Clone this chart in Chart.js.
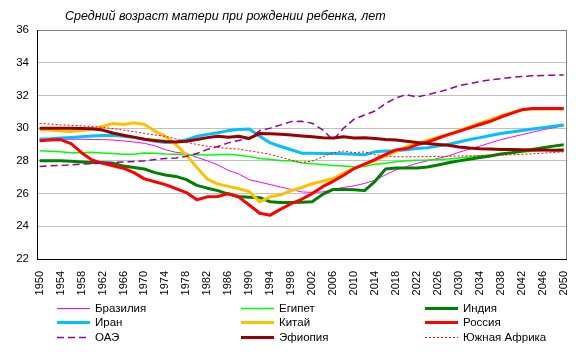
<!DOCTYPE html>
<html>
<head>
<meta charset="utf-8">
<script src="https://cdn.jsdelivr.net/npm/chart.js@4"></script>
<style>
  html, body { margin: 0; padding: 0; background: #fff; }
  #wrap { width: 581px; height: 355px; }
</style>
</head>
<body>
<div id="wrap"><canvas id="c" width="581" height="355"></canvas></div>
<script>
const chartTitle = "Средний возраст матери при рождении ребенка, лет";

const years = [1950,1952,1954,1956,1958,1960,1962,1964,1966,1968,1970,1972,1974,1976,1978,1980,1982,1984,1986,1988,1990,1992,1994,1996,1998,2000,2002,2004,2006,2008,2010,2012,2014,2016,2018,2020,2022,2024,2026,2028,2030,2032,2034,2036,2038,2040,2042,2044,2046,2048,2050];

const tickYears = [1950,1954,1958,1962,1966,1970,1974,1978,1982,1986,1990,1994,1998,2002,2006,2010,2014,2018,2022,2026,2030,2034,2038,2042,2046,2050];

const seriesNames = ["Бразилия","Египет","Индия","Иран","Китай","Россия","ОАЭ","Эфиопия","Южная Африка"];

const brazil = [29.33,29.33,29.33,29.32,29.32,29.30,29.30,29.27,29.22,29.15,29.07,28.92,28.68,28.52,28.45,28.22,28.00,27.75,27.42,27.20,26.85,26.70,26.55,26.40,26.25,26.10,26.07,26.10,26.25,26.38,26.47,26.62,26.82,27.15,27.45,27.65,27.85,28.00,28.15,28.30,28.52,28.72,28.90,29.10,29.30,29.45,29.60,29.75,29.90,30.02,30.14];

const egypt = [28.62,28.58,28.55,28.50,28.50,28.52,28.48,28.45,28.40,28.40,28.48,28.46,28.42,28.40,28.38,28.38,28.36,28.38,28.40,28.35,28.27,28.15,28.08,28.02,28.00,27.88,27.82,27.78,27.72,27.68,27.64,27.66,27.80,27.86,27.95,28.00,28.04,28.05,28.08,28.12,28.18,28.24,28.30,28.36,28.42,28.47,28.52,28.58,28.63,28.68,28.72];

const india = [28.00,28.00,28.00,27.97,27.93,27.90,27.90,27.86,27.68,27.60,27.50,27.28,27.14,27.05,26.85,26.50,26.33,26.18,25.97,25.82,25.78,25.75,25.50,25.45,25.45,25.47,25.50,25.95,26.25,26.25,26.23,26.18,26.75,27.50,27.57,27.57,27.57,27.62,27.75,27.88,28.00,28.10,28.20,28.30,28.42,28.50,28.60,28.70,28.80,28.90,28.98];

const iran = [29.33,29.35,29.40,29.43,29.47,29.52,29.55,29.57,29.50,29.42,29.33,29.20,29.12,29.15,29.30,29.50,29.62,29.72,29.85,29.92,29.95,29.50,29.10,28.88,28.68,28.47,28.47,28.45,28.45,28.43,28.41,28.37,28.55,28.60,28.61,28.68,28.76,28.80,28.90,29.02,29.15,29.30,29.42,29.55,29.67,29.77,29.86,29.95,30.03,30.12,30.20];

const china = [29.90,29.88,29.82,29.80,29.85,29.93,30.10,30.28,30.22,30.33,30.22,29.82,29.50,29.00,28.35,27.60,26.88,26.58,26.44,26.30,26.12,25.49,25.80,25.92,26.18,26.37,26.60,26.75,26.92,27.25,27.55,27.77,28.02,28.30,28.58,28.85,29.07,29.25,29.45,29.62,29.85,30.08,30.30,30.52,30.75,30.95,31.12,31.17,31.17,31.17,31.17];

const russia = [29.23,29.27,29.30,29.05,28.50,28.05,27.85,27.70,27.55,27.28,26.90,26.72,26.55,26.30,26.06,25.62,25.80,25.82,26.00,25.78,25.30,24.80,24.68,25.05,25.38,25.65,26.00,26.42,26.75,27.12,27.53,27.80,28.08,28.40,28.67,28.75,28.98,29.15,29.38,29.60,29.80,30.02,30.22,30.42,30.68,30.90,31.12,31.20,31.20,31.20,31.20];

const uae = [27.66,27.70,27.72,27.76,27.80,27.83,27.86,27.90,27.93,27.96,28.00,28.08,28.15,28.18,28.28,28.45,28.70,28.88,29.10,29.25,29.37,29.85,30.00,30.20,30.40,30.42,30.30,29.90,29.27,30.00,30.55,30.80,31.05,31.50,31.85,32.05,31.90,32.05,32.20,32.38,32.60,32.72,32.85,32.95,33.03,33.10,33.16,33.20,33.22,33.24,33.25];

const ethiopia = [30.00,30.00,30.00,30.00,29.98,29.96,29.88,29.70,29.57,29.45,29.32,29.25,29.18,29.15,29.20,29.30,29.42,29.50,29.45,29.50,29.37,29.68,29.65,29.62,29.58,29.52,29.47,29.42,29.40,29.47,29.40,29.42,29.37,29.30,29.27,29.20,29.12,29.06,29.00,28.95,28.85,28.78,28.74,28.72,28.70,28.69,28.68,28.67,28.66,28.65,28.65];

const southAfrica = [30.29,30.25,30.20,30.17,30.14,30.10,30.05,29.97,29.88,29.78,29.68,29.58,29.50,29.35,29.15,29.00,28.90,28.82,28.76,28.72,28.62,28.51,28.40,28.22,28.05,27.90,27.98,28.25,28.50,28.60,28.50,28.55,28.38,28.30,28.25,28.25,28.25,28.26,28.27,28.28,28.30,28.31,28.32,28.34,28.35,28.37,28.40,28.43,28.47,28.51,28.55];

const seriesValues = [brazil, egypt, india, iran, china, russia, uae, ethiopia, southAfrica];

const styles = [
  { color: '#ff00ff', width: 1,   dash: [] },
  { color: '#00ff00', width: 1.5, dash: [] },
  { color: '#008000', width: 3,   dash: [] },
  { color: '#00c0ff', width: 3,   dash: [] },
  { color: '#ffc000', width: 3,   dash: [] },
  { color: '#ff0000', width: 3,   dash: [] },
  { color: '#990099', width: 1.5, dash: [7, 4] },
  { color: '#990000', width: 3,   dash: [] },
  { color: '#ff0000', width: 1,   dash: [2, 2] }
];

const datasets = seriesNames.map((name, i) => ({
  label: name,
  data: years.map((x, k) => ({ x: x, y: seriesValues[i][k] })),
  borderColor: styles[i].color,
  backgroundColor: styles[i].color,
  borderWidth: styles[i].width,
  borderDash: styles[i].dash,
  pointRadius: 0,
  fill: false,
  tension: 0,
  borderJoinStyle: 'round',
  order: -i
}));

const FONT = "'Liberation Sans', Arial, sans-serif";

const decorPlugin = {
  id: 'decor',
  afterDraw(chart) {
    const ctx = chart.ctx;
    const a = chart.chartArea;
    ctx.save();
    ctx.strokeStyle = '#808080';
    ctx.lineWidth = 1;
    ctx.beginPath();
    ctx.moveTo(Math.round(a.right) + 0.5, a.top);
    ctx.lineTo(Math.round(a.right) + 0.5, a.bottom);
    ctx.stroke();
    ctx.fillStyle = '#000';
    ctx.font = "italic 12.5px " + FONT;
    ctx.textBaseline = 'middle';
    ctx.textAlign = 'left';
    ctx.fillText(chartTitle, 65, 17);
    const colX = [57, 241, 425];
    const rowY = [308, 322, 337];
    ctx.font = "11.5px " + FONT;
    chart.data.datasets.forEach((ds, i) => {
      const x = colX[i % 3];
      const y = rowY[Math.floor(i / 3)];
      ctx.strokeStyle = ds.borderColor;
      ctx.lineWidth = ds.borderWidth;
      ctx.setLineDash(ds.borderDash || []);
      ctx.beginPath();
      ctx.moveTo(x, y + 0.5);
      ctx.lineTo(x + 33, y + 0.5);
      ctx.stroke();
      ctx.setLineDash([]);
      ctx.fillStyle = '#000';
      ctx.fillText(ds.label, x + 38, y + 1);
    });
    ctx.restore();
  }
};

new Chart(document.getElementById('c'), {
  type: 'line',
  data: { datasets: datasets },
  options: {
    responsive: false,
    animation: false,
    devicePixelRatio: 1,
    events: [],
    layout: { padding: { left: 0, top: 30, right: 14, bottom: 0 } },
    plugins: {
      legend: { display: false },
      tooltip: { enabled: false },
      title: { display: false }
    },
    scales: {
      x: {
        type: 'linear',
        min: 1949.5,
        max: 2050.5,
        afterBuildTicks: (s) => { s.ticks = tickYears.map(v => ({ value: v })); },
        afterFit: (s) => { s.height = 96; },
        grid: { display: false },
        border: { display: true, color: '#000', width: 1 },
        ticks: {
          autoSkip: false,
          maxRotation: 90,
          minRotation: 90,
          padding: 4,
          color: '#000',
          font: { family: FONT, size: 11 },
          callback: (v) => String(v)
        }
      },
      y: {
        min: 22,
        max: 36,
        afterFit: (s) => { s.width = 37; },
        grid: {
          color: (c) => (c.tick && c.tick.value === 36 ? '#808080' : '#c0c0c0'),
          drawTicks: false,
          lineWidth: 1
        },
        border: { display: true, color: '#000', width: 1 },
        ticks: {
          stepSize: 2,
          padding: 8,
          color: '#000',
          font: { family: FONT, size: 11.5 }
        }
      }
    }
  },
  plugins: [decorPlugin]
});
</script>
</body>
</html>
